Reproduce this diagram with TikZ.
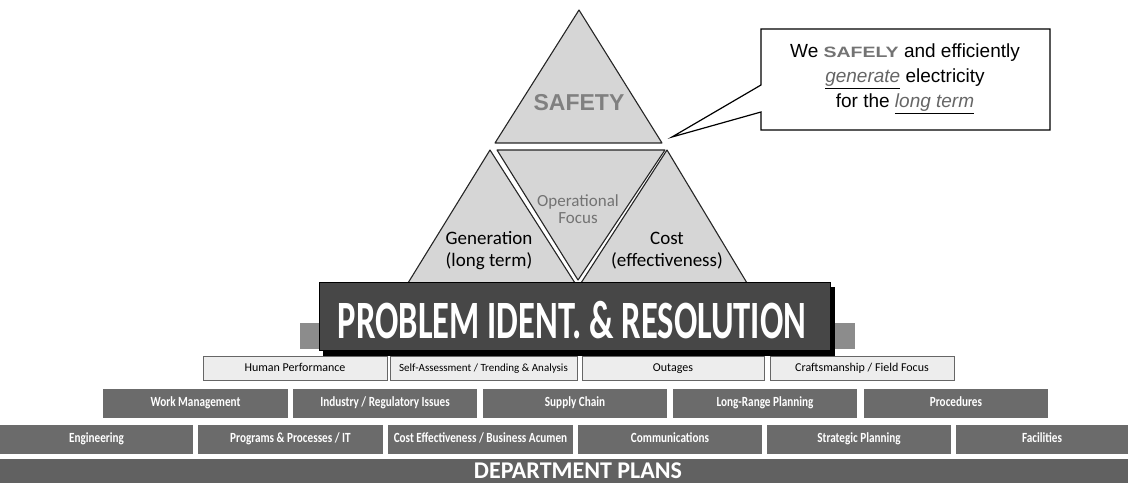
\documentclass[tikz,border=0pt]{standalone}
\usepackage{fontspec}
\setmainfont{Liberation Sans}
\newfontfamily\calfont{Carlito}
\newfontfamily\narrowfont[FakeStretch=0.8]{Carlito}
\newfontfamily\bannerfont[FakeStretch=0.64]{Carlito}
\newfontfamily\widefont[FakeStretch=1.3]{Liberation Sans}
\begin{document}
\begin{tikzpicture}[x=1pt,y=-1pt,
    tri/.style={draw=black!85,line width=1.1pt,fill=black!16,line join=round},
    litebox/.style={draw=black!60,line width=0.6pt,fill=black!7,inner sep=0pt,minimum height=24pt,
      text height=8.5pt,text depth=2.5pt,font=\calfont\fontsize{12}{12}\selectfont},
    darkbox/.style={fill=black!58,text=white,inner sep=0pt,minimum height=29pt,
      text height=10pt,text depth=3pt,font=\narrowfont\bfseries\fontsize{14}{14}\selectfont}]
  \useasboundingbox (0,0) rectangle (1128,484);
  % pyramid
  \filldraw[tri] (579,10) -- (495,143) -- (662,143) -- cycle;
  \filldraw[tri] (490,150) -- (408,283) -- (575,283) -- cycle;
  \filldraw[tri] (497,150) -- (665,150) -- (578,280) -- cycle;
  \filldraw[tri] (667,150) -- (581,283) -- (747,283) -- cycle;
  \node[font=\bfseries\fontsize{23}{23}\selectfont,text=black!50] (safety) at (579,103) {SAFETY};
  \node[font=\calfont\fontsize{17}{17}\selectfont,text=black!55,align=center] (focus) at (578,209) {Operational\\Focus};
  \node[font=\calfont\fontsize{19}{22}\selectfont,align=center] (generation) at (489,251) {Generation\\(long term)};
  \node[font=\calfont\fontsize{19}{22}\selectfont,align=center] (cost) at (667,251) {Cost\\(effectiveness)};
  % callout
  \coordinate (tip) at (672,137);
  \filldraw[draw=black,line width=1.2pt,fill=white,line join=miter]
    (761,29) -- (1050,29) -- (1050,130) -- (761,130) -- (761,112) -- (tip) -- (761,85) -- cycle;
  \node[align=center,font=\fontsize{19}{25}\selectfont] (motto) at (905,79)
    {We {\widefont\bfseries\fontsize{15}{25}\selectfont\color{black!55}SAFELY} and efficiently\\
     \underline{\textit{\color{black!60}generate}} electricity\\
     for the \underline{\textit{\color{black!60}long term}}};
  % banner
  \node[fill=black!45,inner sep=0pt,minimum width=555pt,minimum height=26pt] (backbar) at (577.5,336) {};
  \fill[black] (323,287) rectangle (835,356);
  \node[fill=black!72,draw=black,line width=0.8pt,inner sep=0pt,minimum width=511pt,minimum height=68pt] (banner) at (574.5,316) {};
  \node[anchor=base,text=white,font=\bannerfont\bfseries\fontsize{54}{54}\selectfont] (bannertext) at (572,338)
    {PROBLEM IDENT. \& RESOLUTION};
  % rows
  \node[litebox,minimum width=184pt] (hp) at (295,368) {Human Performance};
  \node[litebox,minimum width=187pt,font=\calfont\fontsize{11}{12}\selectfont] (selfassess) at (483.5,368) {Self-Assessment / Trending \& Analysis};
  \node[litebox,minimum width=182pt] (outages) at (673,368) {Outages};
  \node[litebox,minimum width=184pt] (craft) at (862,368) {Craftsmanship / Field Focus};
  \node[darkbox,minimum width=185pt] (work) at (195.5,403) {Work Management};
  \node[darkbox,minimum width=184pt] (industry) at (385,403) {Industry / Regulatory Issues};
  \node[darkbox,minimum width=184pt] (supply) at (575,403) {Supply Chain};
  \node[darkbox,minimum width=184pt] (longrange) at (765,403) {Long-Range Planning};
  \node[darkbox,minimum width=184pt] (procedures) at (956,403) {Procedures};
  \node[darkbox,minimum width=193pt] (engineering) at (96.5,439) {Engineering};
  \node[darkbox,minimum width=185pt] (programs) at (290.5,439) {Programs \& Processes / IT};
  \node[darkbox,minimum width=185pt] (costeff) at (480.5,439) {Cost Effectiveness / Business Acumen};
  \node[darkbox,minimum width=184pt] (comms) at (670,439) {Communications};
  \node[darkbox,minimum width=184pt] (strategic) at (859,439) {Strategic Planning};
  \node[darkbox,minimum width=172pt] (facilities) at (1042,439) {Facilities};
  \node[fill=black!62,inner sep=0pt,minimum width=1128pt,minimum height=24pt] (dept) at (564,471) {};
  \node[text=white,font=\calfont\bfseries\fontsize{24}{24}\selectfont] (deptlabel) at (578,471) {DEPARTMENT PLANS};
\end{tikzpicture}
\end{document}
